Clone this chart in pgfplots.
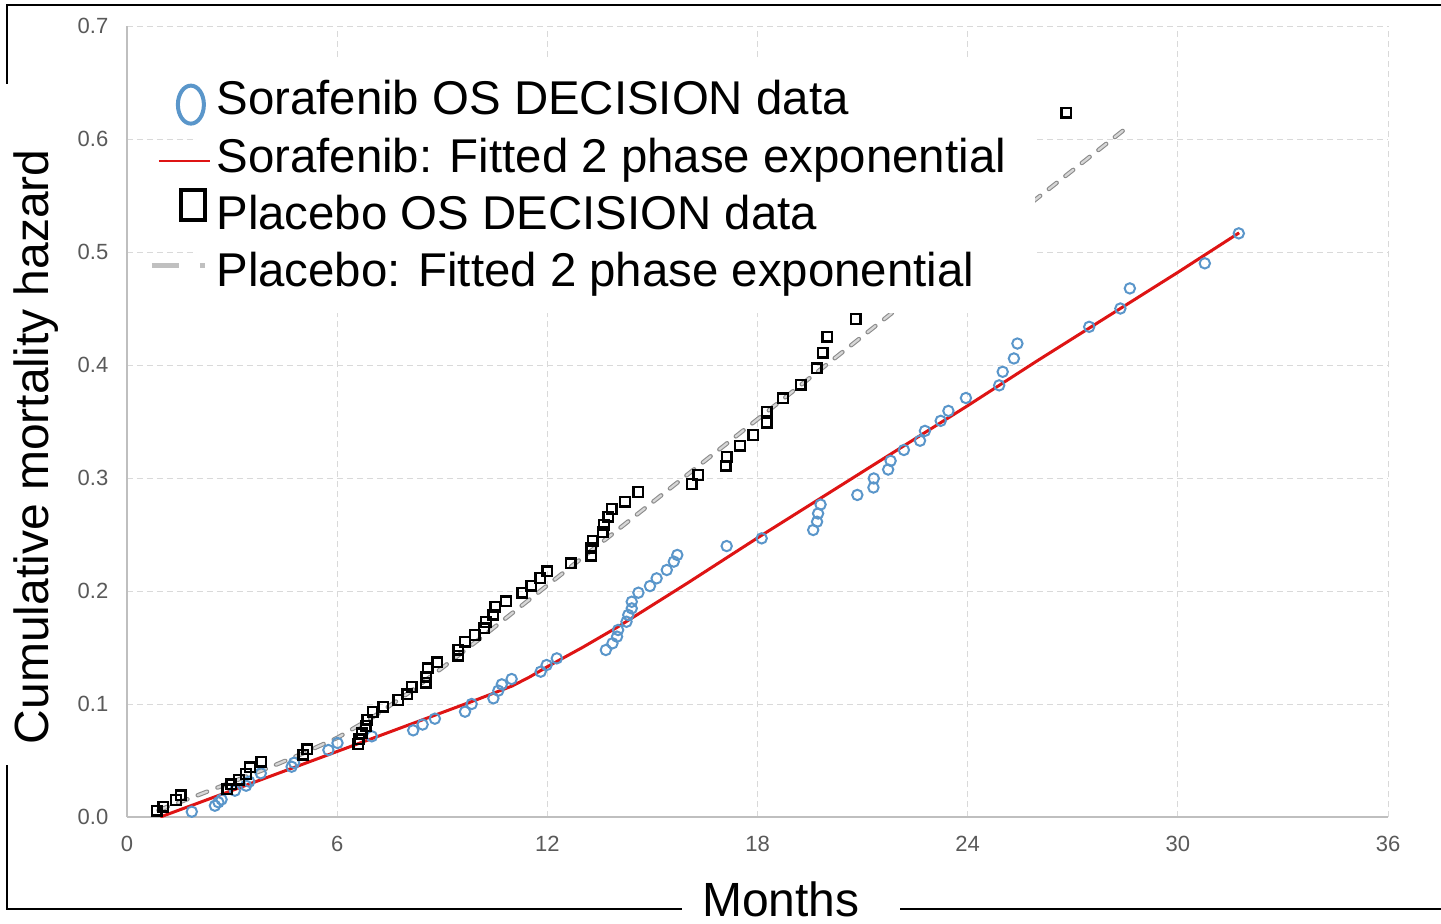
\documentclass[border=0pt]{standalone}
\usepackage{fontspec}
\setmainfont{Liberation Sans}
\usepackage{pgfplots}
\usepackage{pgfplotstable}
\pgfplotsset{compat=1.18}
\definecolor{sorablue}{RGB}{90,150,202}
\definecolor{fitred}{RGB}{222,20,20}
\definecolor{gridgray}{RGB}{217,217,217}
\definecolor{axgray}{RGB}{191,191,191}
\definecolor{ticktext}{RGB}{89,89,89}
\definecolor{dashout}{RGB}{140,140,140}
\definecolor{dashin}{RGB}{215,215,215}
\definecolor{leggray}{RGB}{192,192,192}

\pgfplotstableread{
x y
0.85 0.0056
1.04 0.0090
1.40 0.0150
1.53 0.0192
2.86 0.0245
2.98 0.0290
3.20 0.0330
3.40 0.0380
3.51 0.0440
3.83 0.0490
5.03 0.0550
5.15 0.0600
6.60 0.0646
6.63 0.0688
6.70 0.0740
6.82 0.0805
6.86 0.0860
7.01 0.0930
7.32 0.0976
7.75 0.1035
8.00 0.1085
8.13 0.1150
8.53 0.1190
8.54 0.1240
8.59 0.1316
8.86 0.1370
9.46 0.1427
9.46 0.1480
9.65 0.1550
9.93 0.1610
10.19 0.1670
10.25 0.1726
10.46 0.1790
10.51 0.1860
10.82 0.1910
11.29 0.1985
11.54 0.2046
11.80 0.2115
12.00 0.2174
12.67 0.2245
13.26 0.2313
13.26 0.2378
13.29 0.2445
13.58 0.2520
13.62 0.2587
13.74 0.2657
13.84 0.2726
14.22 0.2790
14.60 0.2876
16.12 0.2947
16.31 0.3027
17.09 0.3110
17.12 0.3190
17.50 0.3286
17.88 0.3380
18.26 0.3490
18.26 0.3586
18.73 0.3705
19.23 0.3827
19.69 0.3970
19.86 0.4110
19.99 0.4250
20.80 0.4407
26.82 0.6233
}\placebodata

\pgfplotstableread{
x y
1.85 0.0047
2.51 0.0100
2.61 0.0130
2.70 0.0155
3.08 0.0233
3.40 0.0277
3.49 0.0313
3.82 0.0387
4.70 0.0445
4.77 0.0480
5.75 0.0593
6.01 0.0655
6.99 0.0714
8.17 0.0767
8.44 0.0818
8.79 0.0870
9.65 0.0932
9.84 0.1000
10.46 0.1050
10.60 0.1118
10.70 0.1174
10.98 0.1221
11.81 0.1286
11.98 0.1345
12.27 0.1404
13.67 0.1478
13.86 0.1537
13.99 0.1596
14.02 0.1655
14.26 0.1728
14.31 0.1788
14.41 0.1846
14.41 0.1905
14.60 0.1985
14.93 0.2044
15.12 0.2112
15.41 0.2186
15.61 0.2260
15.71 0.2319
17.12 0.2398
18.12 0.2466
19.59 0.2540
19.70 0.2613
19.73 0.2686
19.80 0.2765
20.85 0.2850
21.31 0.2916
21.32 0.2996
21.73 0.3075
21.80 0.3152
22.18 0.3248
22.64 0.3330
22.78 0.3417
23.23 0.3506
23.45 0.3594
23.95 0.3708
24.90 0.3820
25.00 0.3940
25.32 0.4058
25.42 0.4190
27.47 0.4338
28.36 0.4500
28.63 0.4678
30.77 0.4900
31.74 0.5165
}\sorafenibdata

\pgfplotstableread{
x y
0.95 0.000
2 0.012
4 0.035
6 0.058
8 0.081
10 0.104
11 0.116
11.5 0.124
12 0.133
13 0.150
14 0.168
16 0.207
18 0.247
20 0.286
22 0.325
24 0.364
26 0.404
28 0.443
30 0.482
31.75 0.517
}\sorafenibfit

\pgfplotstableread{
x y
0.9 0.006
2 0.019
3 0.031
4 0.043
5 0.056
6 0.070
7 0.088
8 0.109
9 0.132
10 0.156
12 0.205
14 0.254
16 0.303
18 0.352
20 0.401
22 0.450
24 0.499
26 0.548
28.5 0.609
}\placebofit

\begin{document}
\begin{tikzpicture}
\begin{axis}[
  at={(0,0)}, anchor=south west,
  scale only axis, width=630.5pt, height=395.5pt,
  xmin=0, xmax=36, ymin=0, ymax=0.7,
  xtick={0,6,12,18,24,30,36},
  ytick={0,0.1,0.2,0.3,0.4,0.5,0.6,0.7},
  axis lines=left,
  axis line style={-, draw=axgray, line width=0.8pt},
  major tick length=0pt,
  grid=major,
  major grid style={draw=gridgray, dash pattern=on 3pt off 2pt, line width=0.5pt},
  /pgf/number format/assume math mode=true,
  yticklabel style={/pgf/number format/.cd, fixed, fixed zerofill, precision=1},
  ticklabel style={font=\fontsize{11}{13}\selectfont, text=ticktext},
  xticklabel shift=6pt,
  yticklabel shift=5.8pt,
  xlabel={Months},
  ylabel={Cumulative mortality hazard},
  xlabel style={font=\fontsize{24}{28}\selectfont, at={(axis description cs:0.5186,-0.126)}, anchor=base},
  ylabel style={font=\fontsize{24}{28}\selectfont, at={(axis description cs:-0.0722,0.468)}, anchor=center},
  legend cell align=left,
  legend style={at={(0.01824,0.9340)}, anchor=north west, draw=none, fill=none,
    inner sep=0pt, font=\fontsize{23.7}{28.5}\selectfont, row sep=5.7pt,
    nodes={inner sep=0pt, text height=18pt, text depth=5pt}},
]
\addplot[only marks, mark=o, mark size=2.6pt, mark options={draw=sorablue, line width=1pt},
  legend image code/.code={\path (0pt,0pt) (31.5pt,0pt);
    \draw[overlay, solid, sorablue, line width=2pt] (19.5pt,-1.5pt) ellipse [x radius=6.5pt, y radius=9.5pt];}]
  table[x=x, y=y] {\sorafenibdata};
\addlegendentry{Sorafenib OS DECISION data}

\addplot[fitred, line width=1.5pt, no markers,
  legend image code/.code={\path (0pt,0pt) (31.5pt,0pt);
    \draw[overlay, solid, fitred, line width=1.2pt] (3.5pt,-1pt) -- (29pt,-1pt);}]
  table[x=x, y=y] {\sorafenibfit};
\addlegendentry{Sorafenib: Fitted 2 phase exponential}

\addplot[only marks, mark=square, mark size=2.4pt, mark options={draw=black, line width=1.2pt},
  legend image code/.code={\path (0pt,0pt) (31.5pt,0pt);
    \draw[overlay, solid, black, line width=2pt] (14.5pt,-2pt) rectangle (26.5pt,13pt);}]
  table[x=x, y=y] {\placebodata};
\addlegendentry{Placebo OS DECISION data}

\addplot[forget plot, dashout, line width=2.2pt, line cap=round, dash pattern=on 5pt off 5.5pt, no markers]
  table[x=x, y=y] {\placebofit};
\addplot[dashin, line width=1.1pt, line cap=round, dash pattern=on 5pt off 5.5pt, no markers,
  legend image code/.code={\path (0pt,0pt) (31.5pt,0pt);
    \draw[overlay, solid, line cap=butt, leggray, line width=2.5pt] (0pt,4pt) -- (13.5pt,4pt);
    \draw[overlay, solid, line cap=butt, leggray, line width=2.5pt] (24pt,4pt) -- (26.5pt,4pt);}]
  table[x=x, y=y] {\placebofit};
\addlegendentry{Placebo: Fitted 2 phase exponential}

\fill[white] (axis cs:2.0,0.446) rectangle (axis cs:25.92,0.6717);
\end{axis}
\draw[black, line width=1pt] (-60pt,366.5pt) -- (-60pt,406pt) -- (657pt,406pt);
\draw[black, line width=1pt] (-60pt,26pt) -- (-60pt,-46pt) -- (277.5pt,-46pt);
\draw[black, line width=1pt] (386.5pt,-46pt) -- (657pt,-46pt);
\pgfresetboundingbox
\useasboundingbox (-63.5pt,-53pt) rectangle (657pt,408.5pt);
\end{tikzpicture}
\end{document}
